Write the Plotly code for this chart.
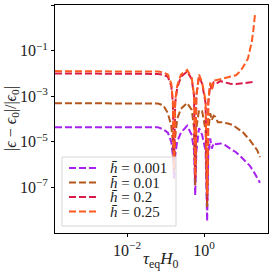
import plotly.graph_objects as go

# ---- data ----
labels = ["<i>h\u0304</i> = 0.001", "<i>h\u0304</i> = 0.01", "<i>h\u0304</i> = 0.2", "<i>h\u0304</i> = 0.25"]
colors = ["#a620f0", "#b5561c", "#d81b48", "#ff5a1f"]

tau_purple = [0.000135, 0.001, 0.01, 0.0316, 0.063, 0.087, 0.115, 0.141, 0.155, 0.166, 0.178, 0.20, 0.251,
              0.363, 0.479, 0.55, 0.589, 0.631, 0.741, 0.891, 1.096, 1.202, 1.288, 1.445, 1.585, 1.778,
              2.04, 2.63, 3.55, 4.79, 6.76, 10.2, 15.5, 20.9, 28.2]
err_purple = [4.4e-5, 4.4e-5, 4.4e-5, 4.4e-5, 4.4e-5, 3.5e-5, 2.5e-5, 1.0e-5, 2.5e-6, 2.5e-7, 2.5e-6, 1.0e-5, 2.5e-5,
              5.0e-5, 2.0e-5, 4.0e-6, 4.5e-8, 4.0e-6, 4.0e-5, 2.0e-5, 4.0e-6, 3.2e-9, 3.2e-6, 1.4e-5, 5.0e-6, 8.9e-6,
              7.9e-6, 8.5e-6, 7.1e-6, 5.0e-6, 3.5e-6, 1.8e-6, 8.9e-7, 4.0e-7, 1.6e-7]

tau_brown = [0.000135, 0.001, 0.01, 0.0316, 0.063, 0.087, 0.115, 0.141, 0.155, 0.166, 0.178, 0.20, 0.251,
             0.363, 0.479, 0.55, 0.589, 0.631, 0.741, 0.891, 1.096, 1.202, 1.288, 1.445, 1.585, 1.778,
             1.95, 2.29, 3.09, 4.17, 5.62, 10.2, 15.5, 24.0, 28.2]
err_brown = [4.9e-4, 4.9e-4, 4.9e-4, 4.9e-4, 4.8e-4, 4.0e-4, 1.8e-4, 5.0e-5, 1.0e-5, 5.0e-7, 1.6e-5, 1.0e-4, 2.8e-4,
             5.0e-4, 2.5e-4, 4.0e-5, 1.26e-7, 4.0e-5, 2.5e-4, 2.2e-4, 3.2e-5, 1.26e-8, 3.2e-5, 1.8e-4, 8.9e-5, 1.4e-4,
             1.26e-4, 7.2e-5, 7.2e-5, 6.3e-5, 5.4e-5, 2.6e-5, 1.17e-5, 4.3e-6, 2.1e-6]

tau_red = [0.000135, 0.001, 0.01, 0.0316, 0.063, 0.087, 0.115, 0.141, 0.155, 0.166, 0.178, 0.20, 0.251,
           0.363, 0.479, 0.55, 0.589, 0.631, 0.741, 0.891, 1.096, 1.202, 1.288, 1.445, 1.585, 1.778,
           2.04, 2.63, 3.55, 4.79, 6.76, 10.2, 13.8, 18.6]
err_red = [1.0e-2, 1.0e-2, 1.0e-2, 1.0e-2, 9.5e-3, 8.9e-3, 7.1e-3, 2.8e-3, 5.0e-4, 6.3e-7, 5.0e-4, 2.2e-3, 7.1e-3,
           1.2e-2, 5.6e-3, 1.0e-3, 2.5e-7, 1.0e-3, 7.6e-3, 3.5e-3, 5.0e-4, 2.5e-8, 5.0e-4, 3.5e-3, 1.8e-3, 4.0e-3,
           3.5e-3, 4.6e-3, 4.0e-3, 3.5e-3, 3.4e-3, 3.6e-3, 4.0e-3, 4.2e-3]

tau_orange = [0.000135, 0.001, 0.01, 0.0316, 0.063, 0.087, 0.115, 0.141, 0.155, 0.166, 0.178, 0.20, 0.251,
              0.363, 0.479, 0.55, 0.589, 0.631, 0.741, 0.891, 1.096, 1.202, 1.288, 1.445, 1.585, 1.778,
              2.04, 2.63, 3.55, 4.79, 6.76, 8.71, 10.2, 13.8, 15.5, 17.4, 19.05, 20.9]
err_orange = [1.26e-2, 1.26e-2, 1.26e-2, 1.26e-2, 1.2e-2, 1.12e-2, 8.9e-3, 3.5e-3, 6.3e-4, 6.3e-7, 6.3e-4, 2.8e-3, 8.9e-3,
              1.4e-2, 6.3e-3, 1.1e-3, 3.2e-7, 1.1e-3, 8.9e-3, 4.0e-3, 6.3e-4, 5.0e-8, 6.3e-4, 4.0e-3, 2.0e-3, 5.0e-3,
              5.0e-3, 5.6e-3, 6.3e-3, 7.1e-3, 8.3e-3, 1.26e-2, 1.86e-2, 4.5e-2, 1.0e-1, 2.5e-1, 7.9e-1, 3.6]

xtick_vals = [0.01, 1]
xtick_text = ["10<sup>\u22122</sup>", "10<sup>0</sup>"]
ytick_vals = [1e1, 1e-1, 1e-3, 1e-5, 1e-7]
ytick_text = ["10<sup>1</sup>", "10<sup>\u22121</sup>", "10<sup>\u22123</sup>", "10<sup>\u22125</sup>", "10<sup>\u22127</sup>"]

series = [(tau_purple, err_purple), (tau_brown, err_brown), (tau_red, err_red), (tau_orange, err_orange)]

SERIF = "Liberation Serif"
DASH = "7px,3px"

fig = go.Figure()
for (xs, ys), name, c in zip(series, labels, colors):
    fig.add_trace(go.Scatter(x=xs, y=ys, mode="lines", name=name, showlegend=False,
                             line=dict(color=c, width=2, dash=DASH)))

axis_common = dict(type="log", showgrid=False, zeroline=False, showline=True, linecolor="black",
                   linewidth=1, mirror=True, ticks="outside", ticklen=3, tickcolor="black",
                   automargin=False,
                   tickfont=dict(family=SERIF, size=16, color="#222"))

# Plot area in pixels: x 55..268, y 5..233  (paper coords below)
W, H = 213.0, 228.0
def px(X):
    return (X - 55) / W
def py(Y):
    return (233 - Y) / H

shapes = [dict(type="rect", xref="paper", yref="paper", x0=px(62), x1=px(176), y0=py(226), y1=py(157),
               fillcolor="rgba(255,255,255,0.8)", line=dict(color="#d6d6d6", width=1), layer="above")]
annotations = []
legend_rows = [168, 182.5, 197, 211.5]
for name, c, Y in zip(labels, colors, legend_rows):
    shapes.append(dict(type="line", xref="paper", yref="paper", x0=px(69), x1=px(99), y0=py(Y), y1=py(Y),
                       line=dict(color=c, width=2, dash=DASH), layer="above"))
    annotations.append(dict(text=name, xref="paper", yref="paper", x=px(108), y=py(Y), xanchor="left",
                            yanchor="middle", showarrow=False,
                            font=dict(family=SERIF, size=15, color="#222")))

annotations.append(dict(text="<i>\u03c4</i><sub>eq</sub><i>H</i><sub>0</sub>", xref="paper", yref="paper",
                        x=px(161), y=py(260), xanchor="center", yanchor="middle", showarrow=False,
                        font=dict(family=SERIF, size=17, color="#222")))
annotations.append(dict(text="|<i>\u03f5</i> \u2212 <i>\u03f5</i><sub>0</sub>|/|<i>\u03f5</i><sub>0</sub>|",
                        xref="paper", yref="paper", x=px(11), y=py(119), xanchor="center", yanchor="middle",
                        textangle=-90, showarrow=False, font=dict(family=SERIF, size=16, color="#222")))

fig.update_layout(
    width=272, height=272,
    margin=dict(l=55, r=4, t=5, b=39),
    paper_bgcolor="white", plot_bgcolor="white",
    showlegend=False,
    xaxis=dict(axis_common, range=[-3.87, 1.66], tickvals=xtick_vals, ticktext=xtick_text),
    yaxis=dict(axis_common, range=[-9, 1.0005], tickvals=ytick_vals, ticktext=ytick_text),
    shapes=shapes, annotations=annotations,
)

fig.write_html("out.html", config={"displayModeBar": False, "staticPlot": True},
               post_script="document.body.style.margin='0';document.body.style.padding='0';")
